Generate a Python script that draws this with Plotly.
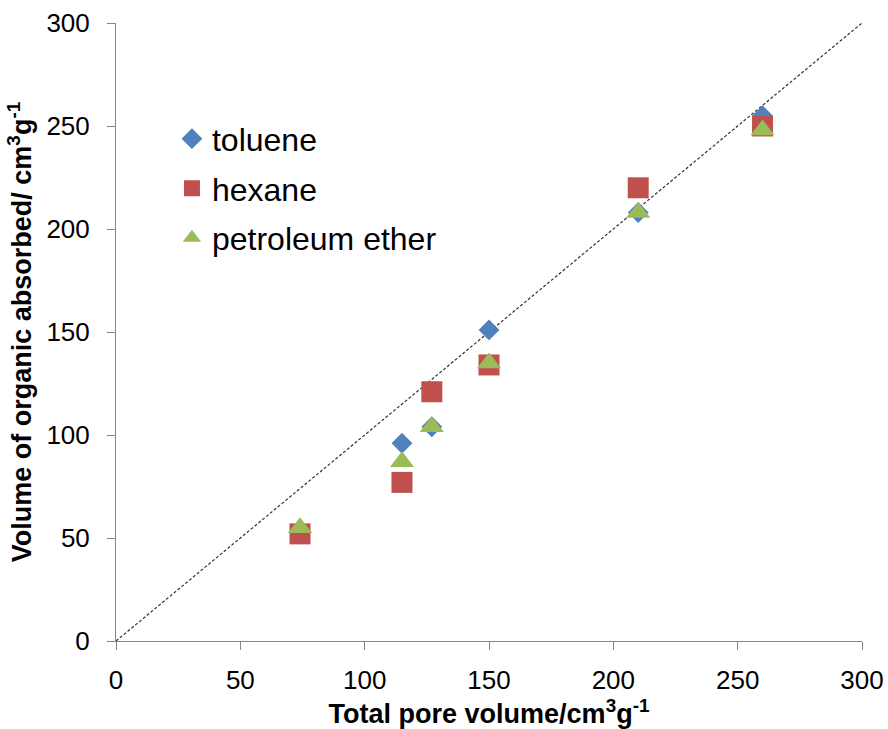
import plotly.graph_objects as go

# Data
pore_volume = [74, 115, 127, 150, 210, 260]
toluene = [54, 96, 104, 151, 208, 255]
hexane = [52, 77, 121, 134, 220, 250]
petroleum_ether = [55, 87, 104, 135, 208, 248]
ref_line = [0, 300]

FONT = "Arial, Liberation Sans, sans-serif"

fig = go.Figure()

fig.add_trace(go.Scatter(
    x=ref_line, y=ref_line, mode="lines",
    line=dict(color="#333333", width=1.2, dash="3px,2px"),
    showlegend=False, hoverinfo="skip"))

fig.add_trace(go.Scatter(
    x=pore_volume, y=toluene, mode="markers", name="toluene", legendgroup="a",
    marker=dict(symbol="diamond", size=16, color="#4F81BD", line=dict(width=0))))
fig.add_trace(go.Scatter(
    x=pore_volume, y=hexane, mode="markers", name="hexane", legendgroup="b",
    marker=dict(symbol="square", size=21, color="#C0504D", line=dict(width=0))))
fig.add_trace(go.Scatter(
    x=pore_volume, y=petroleum_ether, mode="markers", name="petroleum ether", legendgroup="c",
    marker=dict(symbol="triangle-up", size=21, color="#9BBB59", line=dict(width=0))))

fig.update_layout(
    width=888, height=729,
    margin=dict(l=116, r=26, t=23, b=88),
    paper_bgcolor="white", plot_bgcolor="white",
    font=dict(family=FONT, color="#000000"),
    legend=dict(
        x=0.075, y=0.857, xanchor="left", yanchor="top",
        font=dict(size=32, family=FONT, color="#000000"),
        bgcolor="rgba(0,0,0,0)", tracegroupgap=5,
        itemwidth=30),
    xaxis=dict(
        range=[0, 300], tickvals=[0, 50, 100, 150, 200, 250, 300],
        automargin=False,
        showgrid=False, zeroline=False,
        showline=True, linecolor="#868686", linewidth=1,
        ticks="outside", ticklen=8, tickcolor="#868686",
        tickfont=dict(size=26, family=FONT, color="#000000"),
        ticklabelstandoff=8,
        title=dict(text="<b>Total pore volume/cm<sup>3</sup>g<sup>-1</sup></b>",
                   font=dict(size=27, family=FONT, color="#000000"), standoff=9)),
    yaxis=dict(
        range=[0, 300], tickvals=[0, 50, 100, 150, 200, 250, 300],
        automargin=False,
        showgrid=False, zeroline=False,
        showline=True, linecolor="#868686", linewidth=1,
        ticks="outside", ticklen=8, tickcolor="#868686",
        tickfont=dict(size=26, family=FONT, color="#000000"),
        ticklabelstandoff=12,
        title=dict(text="<b>Volume of organic absorbed/ cm<sup>3</sup>g<sup>-1</sup></b>",
                   font=dict(size=27, family=FONT, color="#000000"), standoff=6)),
)

fig.write_html("out.html")
